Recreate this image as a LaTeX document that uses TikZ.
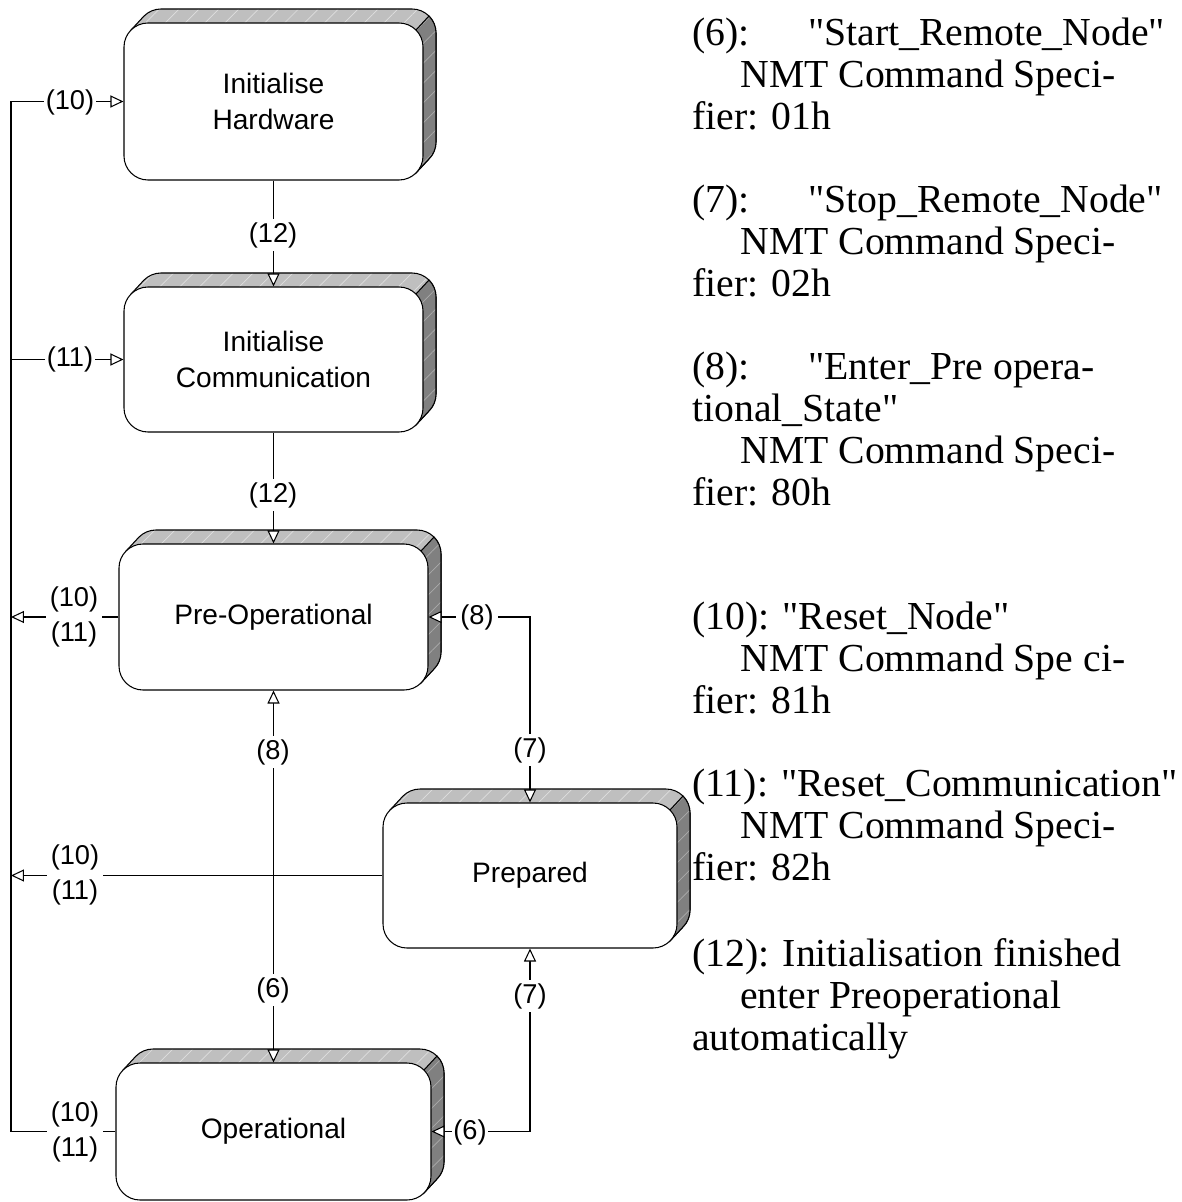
\documentclass[tikz,border=0pt]{standalone}
\usepackage{fontspec}
\setmainfont{Liberation Serif}[Ligatures=TeXOff]
\newfontfamily\arialfont{Liberation Sans}
\usetikzlibrary{arrows.meta,patterns.meta}

\tikzset{
  x=0.02cm, y=-0.02cm,
  conn/.style={line width=0.6pt},
  tri/.tip={Triangle[length=0.26cm,width=0.24cm,fill=white,line width=0.6pt]},
  topface/.style={fill=black!25,
    postaction={pattern={Lines[angle=45,distance=8pt,line width=0.4pt]},pattern color=black!13},
    postaction={draw,line width=0.6pt}},
  sideface/.style={fill=black!50,
    postaction={pattern={Lines[angle=45,distance=8pt,line width=0.4pt]},pattern color=black!33},
    postaction={draw,line width=0.6pt}},
  frontface/.style={draw,fill=white,line width=0.6pt,rounded corners=0.48cm,
    inner sep=0pt,align=center,font=\arialfont\fontsize{16}{20.5}\selectfont},
  lbl/.style={fill=white,inner xsep=0.8pt,inner ysep=1.8pt,align=center,
    font=\arialfont\fontsize{15.5}{19.5}\selectfont},
  note/.style={anchor=base west,inner sep=0pt,font=\fontsize{22.6}{24}\selectfont},
}

% extruded rounded box: name, left, top, right, bottom, text
\newcommand\statebox[6]{%
  \path[topface] ({#2+7.03},{#3+7.03}) -- ++(13,-14)
    arc[start angle=225,end angle=270,radius=24] -- ({#4-11},{#3-14})
    arc[start angle=270,end angle=360,radius=24] -- ({#4+13},{#5-38})
    arc[start angle=0,end angle=45,radius=24] -- ({#4-7.03},{#5-7.03}) -- cycle;
  \path[sideface] ({#4-7.03},{#3+7.03}) -- ++(13,-14)
    arc[start angle=-45,end angle=0,radius=24] -- ({#4+13},{#5-38})
    arc[start angle=0,end angle=45,radius=24] -- ({#4-7.03},{#5-7.03}) -- cycle;
  \node[frontface,minimum width={(#4-#2)*0.02cm},minimum height={(#5-#3)*0.02cm}]
    (#1) at ({(#2+#4)/2},{(#3+#5)/2}) {#6};
}

\begin{document}
\begin{tikzpicture}
\useasboundingbox (0,0) rectangle (1181,1202);

% states
\statebox{hw}{124}{23}{423}{180}{Initialise\\Hardware}
\statebox{com}{124}{287}{423}{432}{Initialise\\Communication}
\statebox{pre}{119}{544}{428}{690}{Pre-Operational}
\statebox{prep}{383}{803}{677}{948}{Prepared}
\statebox{op}{116}{1063}{431}{1200}{Operational}

% reset bus on the left
\coordinate (bus) at (11,0);
\draw[conn,-tri] (op.west) -- (bus |- op.west) -- (bus |- hw.west) -- (hw.west);
\draw[conn,-tri] (bus |- com.west) -- (com.west);
\draw[conn,-tri] (pre.west) -- (bus |- pre.west);
\draw[conn,-tri] (prep.west) -- (bus |- prep.west);
\node[lbl] (l10a) at (70,102) {(10)};
\node[lbl] (l11a) at (70,359) {(11)};
\node[lbl,inner xsep=2pt] (l1011a) at (74,617) {(10)\\(11)};
\node[lbl,inner xsep=2pt] (l1011b) at (75,875) {(10)\\(11)};
\node[lbl,inner xsep=2pt] (l1011c) at (75,1132) {(10)\\(11)};

% initialisation
\draw[conn,-tri] (hw.south) -- (hw.south |- com.north);
\node[lbl] (l12a) at (273,235) {(12)};
\draw[conn,-tri] (com.south) -- (com.south |- pre.north);
\node[lbl] (l12b) at (273,495) {(12)};

% pre-operational <-> operational
\draw[conn,tri-tri] (pre.south) -- (pre.south |- op.north);
\node[lbl] (l8a) at (273,752) {(8)};
\node[lbl] (l6a) at (273,990) {(6)};

% pre-operational <-> prepared
\coordinate (c87) at (prep.north |- pre.east);
\draw[conn,tri-tri] (pre.east) -- (c87) -- (prep.north);
\node[lbl,inner xsep=2.5pt] (l8b) at (477,617) {(8)};
\node[lbl] (l7a) at (530,750) {(7)};

% prepared <-> operational
\coordinate (c76) at (prep.south |- op.east);
\draw[conn,tri-tri] (prep.south) -- (c76) -- (op.east);
\node[lbl] (l7b) at (530,996) {(7)};
\node[lbl] (l6b) at (470,1132) {(6)};

% legend
\node[note] (t6a) at (692,46) {\makebox[2.32cm][l]{(6):}"Start\_Remote\_Node"};
\node[note] (t6b) at (740,88) {NMT Command Speci-};
\node[note] (t6c) at (692,130) {fier: 01h};
\node[note] (t7a) at (692,213) {\makebox[2.32cm][l]{(7):}"Stop\_Remote\_Node"};
\node[note] (t7b) at (740,255) {NMT Command Speci-};
\node[note] (t7c) at (692,297) {fier: 02h};
\node[note] (t8a) at (692,379) {\makebox[2.32cm][l]{(8):}"Enter\_Pre opera-};
\node[note] (t8b) at (692,421) {tional\_State"};
\node[note] (t8c) at (740,463) {NMT Command Speci-};
\node[note] (t8d) at (692,505) {fier: 80h};
\node[note] (t10a) at (692,629) {(10): "Reset\_Node"};
\node[note] (t10b) at (740,671) {NMT Command Spe ci-};
\node[note] (t10c) at (692,713) {fier: 81h};
\node[note] (t11a) at (692,796) {(11): "Reset\_Communication"};
\node[note] (t11b) at (740,838) {NMT Command Speci-};
\node[note] (t11c) at (692,880) {fier: 82h};
\node[note] (t12a) at (692,966) {(12): Initialisation finished};
\node[note] (t12b) at (740,1008) {enter Preoperational};
\node[note] (t12c) at (692,1050) {automatically};
\end{tikzpicture}
\end{document}
